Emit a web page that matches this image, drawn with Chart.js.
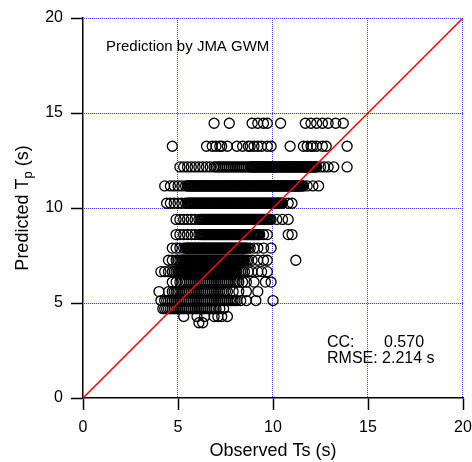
<!DOCTYPE html>
<html>
<head>
<meta charset="utf-8">
<script src="https://cdn.jsdelivr.net/npm/chart.js@4/dist/chart.umd.min.js"></script>
<style>
  html, body { margin: 0; padding: 0; background: #fff; }
  #wrap { width: 472px; height: 462px; }
</style>
</head>
<body>
<div id="wrap"><canvas id="c" width="472" height="462"></canvas></div>
<script>
// Predicted peak period levels (s) and the observed Ts (s) recorded at each level
const tpLevels = [14.46, 13.25, 12.16, 11.16, 10.25, 9.40, 8.60, 7.89, 7.25, 6.65, 6.10, 5.60, 5.13, 4.70, 4.29, 3.96];

const obsAt1446 = [6.9,7.7,8.9,9.2,9.5,9.7,10.4,11.7,12.0,12.3,12.6,12.9,13.3,13.7];
const obsAt1325 = [4.7,6.5,6.8,7.0,7.2,7.3,7.6,8.1,8.4,8.7,8.8,9.0,9.2,9.4,9.7,9.9,10.9,11.6,11.8,12.0,12.1,12.3,12.6,12.8,13.9];
const obsAt1216 = [5.1,5.3,5.5,5.7,5.9,6.1,6.3,6.5,6.7,6.9,7.0,7.1,7.2,7.3,7.4,7.5,7.6,7.7,7.8,7.9,8.0,8.1,8.2,8.3,8.4,8.5,8.6,8.7,8.8,8.9,9.0,9.1,9.2,9.3,9.4,9.5,9.6,9.7,9.8,9.9,10.0,10.1,10.2,10.3,10.4,10.5,10.6,10.7,10.8,10.9,11.0,11.1,11.2,11.3,11.4,11.5,11.6,11.7,11.8,11.9,12.0,12.1,12.2,12.3,12.5,12.7,12.9,13.2,13.9,
  8.85,8.95,9.05,9.15,9.25,9.35,9.45,9.55,9.65,9.75,9.85,9.95,10.05,10.15,10.25,10.35,10.45,10.55,10.65,10.75,10.85,10.95,11.05,11.15,11.25,11.35,11.45,11.55,11.65,11.75,11.85,11.95,12.05,12.15,12.25];
const obsAt1116 = [4.3,4.6,4.8,5.0,5.2,5.4,5.5,5.6,5.7,5.8,5.9,6.0,6.1,6.2,6.3,6.4,6.5,6.6,6.7,6.8,6.9,7.0,7.1,7.2,7.3,7.4,7.5,7.6,7.7,7.8,7.9,8.0,8.1,8.2,8.3,8.4,8.5,8.6,8.7,8.8,8.9,9.0,9.1,9.2,9.3,9.4,9.5,9.6,9.7,9.8,9.9,10.0,10.1,10.2,10.3,10.4,10.5,10.6,10.7,10.8,10.9,11.0,11.1,11.2,11.3,11.4,11.5,11.6,11.8,12.1,12.4,
  5.55,5.65,5.75,5.85,5.95,6.05,6.15,6.25,6.35,6.45,6.55,6.65,6.75,6.85,6.95,7.05,7.15,7.25,7.35,7.45,7.55,7.65,7.75,7.85,7.95,8.05,8.15,8.25,8.35,8.45,8.55,8.65,8.75,8.85,8.95,9.05,9.15,9.25,9.35,9.45,9.55,9.65,9.75,9.85,9.95,10.05,10.15,10.25,10.35,10.45,10.55,10.65,10.75,10.85,10.95,11.05,11.15,11.25,11.35,11.45,11.55];
const obsAt1025 = [4.4,4.6,4.8,5.0,5.2,5.4,5.5,5.6,5.7,5.8,5.9,6.0,6.1,6.2,6.3,6.4,6.5,6.6,6.7,6.8,6.9,7.0,7.1,7.2,7.3,7.4,7.5,7.6,7.7,7.8,7.9,8.0,8.1,8.2,8.3,8.4,8.5,8.6,8.7,8.8,8.9,9.0,9.1,9.2,9.3,9.4,9.5,9.6,9.7,9.8,9.9,10.0,10.1,10.2,10.3,10.4,10.5,10.8,11.0,
  5.55,5.65,5.75,5.85,5.95,6.05,6.15,6.25,6.35,6.45,6.55,6.65,6.75,6.85,6.95,7.05,7.15,7.25,7.35,7.45,7.55,7.65,7.75,7.85,7.95,8.05,8.15,8.25,8.35,8.45,8.55,8.65,8.75,8.85,8.95,9.05,9.15,9.25,9.35,9.45,9.55,9.65,9.75,9.85,9.95,10.05,10.15,10.25,10.35,10.45];
const obsAt940 = [4.9,5.1,5.3,5.5,5.7,5.9,6.1,6.2,6.3,6.4,6.5,6.6,6.7,6.8,6.9,7.0,7.1,7.2,7.3,7.4,7.5,7.6,7.7,7.8,7.9,8.0,8.1,8.2,8.3,8.4,8.5,8.6,8.7,8.8,8.9,9.0,9.1,9.2,9.3,9.4,9.5,9.6,9.7,9.8,9.9,10.2,10.5,10.8,
  6.25,6.35,6.45,6.55,6.65,6.75,6.85,6.95,7.05,7.15,7.25,7.35,7.45,7.55,7.65,7.75,7.85,7.95,8.05,8.15,8.25,8.35,8.45,8.55,8.65,8.75,8.85,8.95,9.05,9.15,9.25,9.35,9.45,9.55,9.65,9.75,9.85];
const obsAt860 = [4.9,5.1,5.3,5.5,5.7,5.9,6.1,6.2,6.3,6.4,6.5,6.6,6.7,6.8,6.9,7.0,7.1,7.2,7.3,7.4,7.5,7.6,7.7,7.8,7.9,8.0,8.1,8.2,8.3,8.4,8.5,8.6,8.7,8.8,8.9,9.0,9.1,9.2,9.3,9.5,9.7,10.8,11.0,
  6.25,6.35,6.45,6.55,6.65,6.75,6.85,6.95,7.05,7.15,7.25,7.35,7.45,7.55,7.65,7.75,7.85,7.95,8.05,8.15,8.25,8.35,8.45,8.55,8.65,8.75,8.85,8.95,9.05,9.15,9.25];
const obsAt789 = [4.7,4.9,5.1,5.3,5.4,5.5,5.6,5.7,5.8,5.9,6.0,6.1,6.2,6.3,6.4,6.5,6.6,6.7,6.8,6.9,7.0,7.1,7.2,7.3,7.4,7.5,7.6,7.7,7.8,7.9,8.0,8.1,8.2,8.3,8.4,8.5,8.6,8.7,8.8,9.0,9.2,9.5,9.9,
  5.45,5.55,5.65,5.75,5.85,5.95,6.05,6.15,6.25,6.35,6.45,6.55,6.65,6.75,6.85,6.95,7.05,7.15,7.25,7.35,7.45,7.55,7.65,7.75,7.85,7.95,8.05,8.15,8.25,8.35,8.45,8.55];
const obsAt725 = [4.5,4.7,4.9,5.0,5.1,5.2,5.3,5.4,5.5,5.6,5.7,5.8,5.9,6.0,6.1,6.2,6.3,6.4,6.5,6.6,6.7,6.8,6.9,7.0,7.1,7.2,7.3,7.4,7.5,7.6,7.7,7.8,7.9,8.0,8.1,8.2,8.3,8.4,8.5,8.6,8.7,8.9,9.2,9.5,9.7,11.2,
  5.25,5.35,5.45,5.55,5.65,5.75,5.85,5.95,6.05,6.15,6.25,6.35,6.45,6.55,6.65,6.75,6.85,6.95,7.05,7.15,7.25,7.35,7.45,7.55,7.65,7.75,7.85,7.95,8.05,8.15,8.25,8.35,8.45];
const obsAt665 = [4.1,4.3,4.5,4.7,4.8,4.9,5.0,5.1,5.2,5.3,5.4,5.5,5.6,5.7,5.8,5.9,6.0,6.1,6.2,6.3,6.4,6.5,6.6,6.7,6.8,6.9,7.0,7.1,7.2,7.3,7.4,7.5,7.6,7.7,7.8,7.9,8.0,8.1,8.2,8.3,8.4,8.5,8.7,8.9,9.2,9.4,9.7,
  5.05,5.15,5.25,5.35,5.45,5.55,5.65,5.75,5.85,5.95,6.05,6.15,6.25,6.35,6.45,6.55,6.65,6.75,6.85,6.95,7.05,7.15,7.25,7.35,7.45,7.55,7.65,7.75,7.85,7.95,8.05];
const obsAt610 = [4.7,4.9,5.1,5.2,5.3,5.4,5.5,5.6,5.7,5.8,5.9,6.0,6.1,6.2,6.3,6.4,6.5,6.6,6.7,6.8,6.9,7.0,7.1,7.2,7.3,7.4,7.5,7.6,7.7,7.8,7.9,8.0,8.1,8.2,8.4,8.6,9.0,9.6,9.9];
const obsAt560 = [4.0,4.5,4.7,4.8,4.9,5.0,5.1,5.2,5.3,5.4,5.5,5.6,5.7,5.8,5.9,6.0,6.1,6.2,6.3,6.4,6.5,6.6,6.7,6.8,6.9,7.0,7.1,7.2,7.3,7.4,7.5,7.6,7.9,8.2,8.6,9.2];
const obsAt513 = [4.1,4.3,4.4,4.5,4.6,4.7,4.8,4.9,5.0,5.1,5.2,5.3,5.4,5.5,5.6,5.7,5.8,5.9,6.0,6.1,6.2,6.3,6.4,6.5,6.6,6.7,6.8,6.9,7.0,7.1,7.2,7.3,7.4,7.5,7.6,7.7,7.8,7.9,8.0,8.1,8.3,8.6,9.1,10.0];
const obsAt470 = [4.2,4.3,4.4,4.5,4.6,4.7,4.8,4.9,5.0,5.1,5.2,5.3,5.4,5.5,5.6,5.7,5.8,5.9,6.0,6.1,6.2,6.3,6.4,6.5,6.6,6.7,6.8,6.9,7.0,7.2,7.4];
const obsAt429 = [5.3,6.0,6.4,6.9,7.1,7.3,7.6];
const obsAt396 = [6.1,6.3];

const obsByLevel = [obsAt1446, obsAt1325, obsAt1216, obsAt1116, obsAt1025, obsAt940, obsAt860,
  obsAt789, obsAt725, obsAt665, obsAt610, obsAt560, obsAt513, obsAt470, obsAt429, obsAt396];

// Axis ticks, dotted grid positions and the 1:1 reference line
const tickValues = [0, 5, 10, 15, 20];
const gridValues = [5, 10, 15, 20];
const oneToOne = [[0, 0], [20, 20]];

// Annotation text
const headline = 'Prediction by JMA GWM';
const ccValue = '0.570';
const rmseValue = '2.214 s';

const scatterPoints = [];
tpLevels.forEach((tp, i) => {
  obsByLevel[i].forEach(ts => scatterPoints.push({ x: ts, y: tp }));
});

const FONT = '"Liberation Sans", Arial, Helvetica, sans-serif';
const GRID_BLUE = '#4646ff';

function axisOptions(fitSize, horizontal) {
  return {
    type: 'linear',
    min: 0,
    max: 20,
    afterBuildTicks: (scale) => { scale.ticks = tickValues.map(v => ({ value: v })); },
    afterFit: (scale) => {
      if (horizontal) {
        scale.height = fitSize;
        scale.paddingLeft = 0;
        scale.paddingRight = 0;
      } else {
        scale.width = fitSize;
        scale.paddingTop = 0;
        scale.paddingBottom = 0;
      }
    },
    ticks: {
      color: '#000',
      font: { family: FONT, size: 16 },
      padding: 8,
      maxRotation: 0,
      autoSkip: false
    },
    grid: {
      drawOnChartArea: false,
      drawTicks: true,
      tickLength: 12,
      tickColor: '#000',
      tickWidth: 1.5,
      tickBorderDash: [20, 0]
    },
    border: {
      display: true,
      color: '#000',
      width: 1.5
    },
    title: { display: false }
  };
}

// Dotted blue grid drawn pixel by pixel under the data
const dottedGrid = {
  id: 'dottedGrid',
  beforeDatasetsDraw(chart) {
    const ctx = chart.ctx;
    const { left, right, top, bottom } = chart.chartArea;
    const xs = chart.scales.x, ys = chart.scales.y;
    ctx.save();
    ctx.fillStyle = GRID_BLUE;
    gridValues.forEach(v => {
      const px = Math.round(xs.getPixelForValue(v)) - 1;
      for (let y = Math.round(top); y < bottom; y += 2) ctx.fillRect(px, y, 1, 1);
      const py = Math.round(ys.getPixelForValue(v));
      for (let x = Math.round(left) + 1; x <= right; x += 2) ctx.fillRect(x, py, 1, 1);
    });
    ctx.restore();
  }
};

const labels = {
  id: 'labels',
  afterDraw(chart) {
    const ctx = chart.ctx;
    const area = chart.chartArea;
    ctx.save();
    ctx.fillStyle = '#000';
    ctx.textBaseline = 'alphabetic';
    ctx.textAlign = 'left';
    ctx.font = '15px ' + FONT;
    ctx.fillText(headline, 106, 51);
    ctx.font = '16px ' + FONT;
    ctx.fillText('CC:', 327, 347);
    ctx.fillText(ccValue, 384, 347);
    ctx.fillText('RMSE: ' + rmseValue, 327, 363);

    // x-axis title
    ctx.font = '18px ' + FONT;
    ctx.textAlign = 'center';
    ctx.fillText('Observed Ts (s)', (area.left + area.right) / 2, 456);

    // y-axis title with subscript p
    const big = '18px ' + FONT;
    const small = '13px ' + FONT;
    ctx.font = big;
    const w1 = ctx.measureText('Predicted T').width;
    const w3 = ctx.measureText(' (s)').width;
    ctx.font = small;
    const w2 = ctx.measureText('p').width;
    const total = w1 + w2 + w3;
    ctx.translate(28, (area.top + area.bottom) / 2);
    ctx.rotate(-Math.PI / 2);
    ctx.textAlign = 'left';
    const x0 = -total / 2;
    ctx.font = big;
    ctx.fillText('Predicted T', x0, 0);
    ctx.font = small;
    ctx.fillText('p', x0 + w1, 4);
    ctx.font = big;
    ctx.fillText(' (s)', x0 + w1 + w2, 0);
    ctx.restore();
  }
};

new Chart(document.getElementById('c'), {
  data: {
    datasets: [
      {
        type: 'line',
        data: oneToOne.map(p => ({ x: p[0], y: p[1] })),
        borderColor: '#ff0000',
        borderWidth: 1.5,
        pointRadius: 0,
        fill: false,
        order: 0
      },
      {
        type: 'scatter',
        data: scatterPoints,
        pointStyle: 'circle',
        pointRadius: 5,
        pointBorderWidth: 1.3,
        pointBorderColor: '#000',
        pointBackgroundColor: 'rgba(0,0,0,0)',
        borderColor: '#000',
        backgroundColor: 'rgba(0,0,0,0)',
        order: 1
      }
    ]
  },
  options: {
    responsive: false,
    animation: false,
    events: [],
    layout: { padding: { left: 0, right: 9, top: 18, bottom: 0 } },
    plugins: { legend: { display: false }, tooltip: { enabled: false } },
    scales: {
      x: axisOptions(64, true),
      y: axisOptions(83, false)
    }
  },
  plugins: [dottedGrid, labels]
});
</script>
</body>
</html>
